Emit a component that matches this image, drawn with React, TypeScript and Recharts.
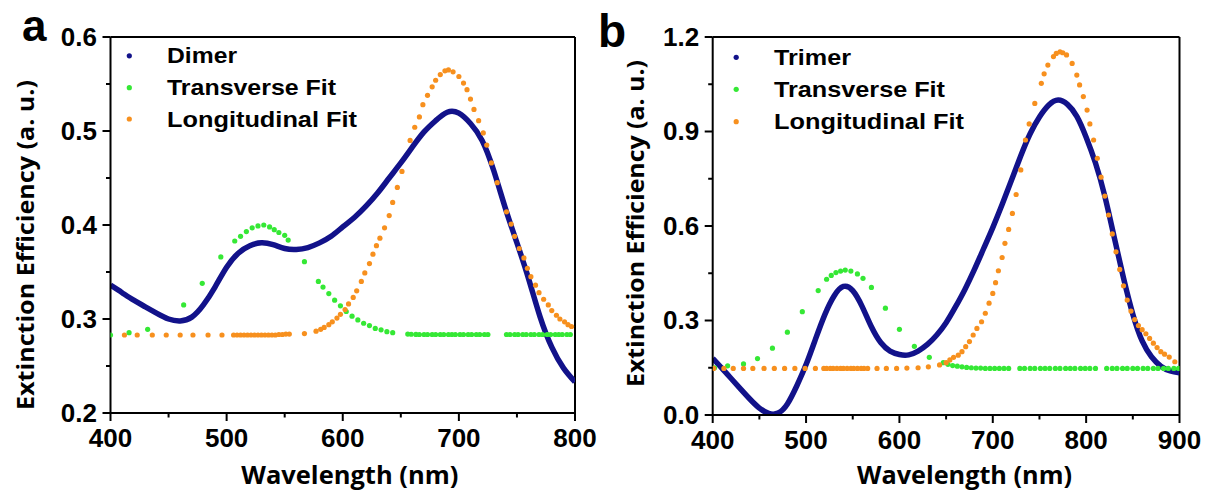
import React from 'react';
import { ComposedChart, Line, Scatter, XAxis, YAxis, ReferenceLine } from 'recharts';

// ---------- Panel a : Dimer ----------
const dimerWl = [400,410,420,430,440,450,460,470,480,490,500,510,520,530,540,550,560,570,580,590,600,610,620,630,640,650,660,670,680,690,700,710,720,730,740,750,760,770,780,790,800];
const dimerVals = [0.336,0.328,0.320,0.313,0.306,0.300,0.298,0.302,0.315,0.334,0.355,0.370,0.378,0.381,0.379,0.375,0.374,0.376,0.381,0.388,0.398,0.408,0.420,0.434,0.450,0.466,0.483,0.499,0.511,0.520,0.519,0.508,0.490,0.458,0.418,0.381,0.343,0.302,0.270,0.248,0.233];

const transAWl = [400,416,432,463,479,495,507,512,517,522,527,532,537,541,545,550,553,567,579,583,588,593,598,603,608,613,618,623,628,633,638,643,656,659,663,666,670,673,677,680,684,687,691,694,697,701,704,708,711,715,718,722,725,741,744,748,751,755,758,762,765,769,772,776,779,783,786,789,793,796];
const transAVals = [0.283,0.2855,0.289,0.315,0.338,0.366,0.383,0.388,0.393,0.397,0.399,0.400,0.398,0.395,0.392,0.389,0.384,0.361,0.340,0.334,0.327,0.320,0.314,0.308,0.303,0.299,0.2955,0.293,0.290,0.2885,0.2865,0.2855,0.284,0.2838,0.2836,0.2835,0.2835,0.2835,0.2835,0.2835,0.2835,0.2835,0.2835,0.2835,0.2835,0.2835,0.2835,0.2835,0.2835,0.2835,0.2835,0.2835,0.2835,0.2835,0.2835,0.2835,0.2835,0.2835,0.2835,0.2835,0.2835,0.2835,0.2835,0.2835,0.2835,0.2835,0.2835,0.2835,0.2835,0.2835];

const longAWl = [412,423,436,448,460,471,484,496,506,509,512,515,518,521,524,527,530,533,536,539,542,545,548,551,554,567,577,581,584,588,591,595,598,602,605,609,612,616,619,623,626,629,632,636,640,643,647,651,658,662,666,669,673,677,680,684,688,691,695,700,704,707,710,713,717,721,724,728,733,741,745,748,752,756,759,762,766,769,773,777,780,784,787,791,794,797];
const longAVals = [0.283,0.283,0.283,0.283,0.283,0.283,0.283,0.283,0.283,0.283,0.283,0.283,0.283,0.283,0.283,0.283,0.283,0.283,0.283,0.283,0.283,0.2835,0.2835,0.284,0.284,0.2845,0.287,0.289,0.291,0.294,0.297,0.301,0.305,0.310,0.316,0.323,0.330,0.340,0.349,0.359,0.369,0.378,0.386,0.397,0.410,0.424,0.440,0.457,0.490,0.504,0.515,0.528,0.538,0.547,0.554,0.560,0.564,0.565,0.563,0.558,0.551,0.544,0.534,0.523,0.511,0.498,0.485,0.466,0.445,0.414,0.401,0.388,0.375,0.365,0.354,0.345,0.336,0.328,0.321,0.315,0.309,0.304,0.300,0.297,0.294,0.292];

// ---------- Panel b : Trimer ----------
const trimerWl = [400,410,420,430,440,450,460,470,480,490,500,510,520,530,540,550,560,570,580,590,600,610,620,630,640,650,660,670,680,690,700,710,720,730,740,750,760,770,780,790,800,810,820,830,840,850,860,870,880,890,900];
const trimerVals = [0.180,0.148,0.115,0.082,0.050,0.022,0.005,0.006,0.035,0.092,0.160,0.240,0.318,0.378,0.408,0.395,0.345,0.280,0.230,0.203,0.192,0.191,0.203,0.224,0.254,0.293,0.343,0.398,0.460,0.527,0.595,0.668,0.745,0.823,0.893,0.946,0.984,1.000,0.986,0.948,0.882,0.800,0.695,0.565,0.435,0.320,0.235,0.185,0.155,0.140,0.134];

const transBWl = [402,416,433,448,464,480,496,513,522,527,532,537,542,548,555,561,570,585,600,616,632,647,652,657,662,667,672,677,682,687,692,697,702,707,712,717,729,734,740,745,751,756,761,767,772,778,783,788,794,799,804,810,822,828,833,839,844,850,855,861,866,872,877,883,888,894,899];
const transBVals = [0.150,0.156,0.162,0.179,0.212,0.263,0.328,0.395,0.431,0.443,0.452,0.457,0.460,0.457,0.448,0.434,0.405,0.339,0.272,0.218,0.183,0.166,0.161,0.157,0.155,0.153,0.151,0.150,0.149,0.149,0.148,0.148,0.148,0.148,0.148,0.148,0.148,0.148,0.148,0.148,0.148,0.148,0.148,0.148,0.148,0.148,0.148,0.148,0.148,0.148,0.148,0.148,0.148,0.148,0.148,0.148,0.148,0.148,0.148,0.148,0.148,0.148,0.148,0.148,0.148,0.148,0.148];

const longBWl = [401,412,422,433,443,455,466,477,488,499,510,519,522,526,529,533,537,540,544,548,551,555,559,562,566,576,586,597,608,620,631,643,650,654,658,663,667,671,675,679,683,688,692,696,700,703,706,710,713,717,721,725,730,735,739,745,752,755,759,765,768,772,775,779,785,790,793,797,801,804,808,812,816,820,824,828,832,836,840,844,848,852,856,860,864,868,872,876,880,884,889,895];
const longBVals = [0.148,0.148,0.148,0.148,0.148,0.148,0.148,0.148,0.148,0.148,0.148,0.148,0.148,0.148,0.148,0.148,0.148,0.148,0.148,0.148,0.148,0.148,0.148,0.148,0.148,0.148,0.148,0.148,0.149,0.150,0.153,0.159,0.166,0.175,0.183,0.190,0.201,0.217,0.233,0.254,0.275,0.296,0.323,0.355,0.386,0.420,0.458,0.500,0.545,0.589,0.640,0.700,0.778,0.873,0.924,0.989,1.053,1.083,1.111,1.138,1.148,1.153,1.150,1.143,1.116,1.079,1.048,1.011,0.968,0.924,0.873,0.815,0.755,0.695,0.635,0.575,0.518,0.462,0.410,0.365,0.330,0.303,0.284,0.271,0.258,0.243,0.228,0.214,0.201,0.193,0.184,0.169];

// ---------- Axes ----------
const xTicksA = [400,450,500,550,600,650,700,750,800];
const xMajorA = [400,500,600,700,800];
const yTicksA = [0.2,0.25,0.3,0.35,0.4,0.45,0.5,0.55,0.6];
const yMajorA = [0.2,0.3,0.4,0.5,0.6];
const xTicksB = [400,450,500,550,600,650,700,750,800,850,900];
const xMajorB = [400,500,600,700,800,900];
const yTicksB = [0,0.15,0.3,0.45,0.6,0.75,0.9,1.05,1.2];
const yMajorB = [0,0.3,0.6,0.9,1.2];

const BLUE = '#12128a';
const GREEN = '#35e835';
const ORANGE = '#f7901e';
const TICK_FONT = '"Liberation Sans", Arial, sans-serif';
const TITLE_FONT = '"Open Sans", "Liberation Sans", Arial, sans-serif';

const zip = (xs: number[], vs: number[]) => xs.map((x, i) => ({ x, v: vs[i] }));

const isIn = (arr: number[], v: number) => arr.some((m) => Math.abs(m - v) < 1e-6);

const makeXTick = (majors: number[]) => (p: any) => {
  const { x, y, payload } = p;
  const v = payload.value;
  const major = isIn(majors, v);
  return (
    <g>
      <line x1={x} x2={x} y1={y} y2={y + (major ? 8 : 4.5)} stroke="#000" strokeWidth={2} />
      {major && (
        <text x={x} y={y + 34} textAnchor="middle" fontFamily={TICK_FONT} fontWeight="bold" fontSize={26} fill="#000">
          {v}
        </text>
      )}
    </g>
  );
};

const makeYTick = (majors: number[]) => (p: any) => {
  const { x, y, payload } = p;
  const v = payload.value;
  const major = isIn(majors, v);
  return (
    <g>
      <line x1={x} x2={x - (major ? 8 : 4.5)} y1={y} y2={y} stroke="#000" strokeWidth={2} />
      {major && (
        <text x={x - 13.5} y={y + 8.5} textAnchor="end" fontFamily={TICK_FONT} fontWeight="bold" fontSize={26} fill="#000">
          {v.toFixed(1)}
        </text>
      )}
    </g>
  );
};

const makeDot = (color: string) => (p: any) => <circle cx={p.cx} cy={p.cy} r={2.6} fill={color} />;

type PanelProps = {
  left: number;
  width: number;
  margin: { top: number; right: number; bottom: number; left: number };
  xDomain: [number, number];
  yDomain: [number, number];
  xTicks: number[];
  xMajor: number[];
  yTicks: number[];
  yMajor: number[];
  main: { x: number; v: number }[];
  trans: { x: number; v: number }[];
  longi: { x: number; v: number }[];
  mainName: string;
};

function Panel(props: PanelProps) {
  const { left, width, margin, xDomain, yDomain, xTicks, xMajor, yTicks, yMajor, main, trans, longi, mainName } = props;
  return (
    <div style={{ position: 'absolute', left, top: 0 }}>
      <ComposedChart width={width} height={494} margin={margin}>
        <XAxis
          type="number"
          dataKey="x"
          domain={xDomain}
          ticks={xTicks}
          interval={0}
          allowDataOverflow
          height={40}
          tickSize={0}
          tickMargin={0}
          tickLine={false}
          axisLine={{ stroke: '#000', strokeWidth: 2 }}
          tick={makeXTick(xMajor)}
        />
        <YAxis
          type="number"
          dataKey="v"
          domain={yDomain}
          ticks={yTicks}
          interval={0}
          allowDataOverflow
          width={60}
          tickSize={0}
          tickMargin={0}
          tickLine={false}
          axisLine={{ stroke: '#000', strokeWidth: 2 }}
          tick={makeYTick(yMajor)}
        />
        <ReferenceLine y={yDomain[1]} stroke="#000" strokeWidth={2} />
        <ReferenceLine x={xDomain[1]} stroke="#000" strokeWidth={2} />
        <Scatter name="Transverse Fit" data={trans} dataKey="v" fill={GREEN} shape={makeDot(GREEN)} isAnimationActive={false} />
        <Scatter name="Longitudinal Fit" data={longi} dataKey="v" fill={ORANGE} shape={makeDot(ORANGE)} isAnimationActive={false} />
        <Line
          name={mainName}
          data={main}
          dataKey="v"
          type="natural"
          stroke={BLUE}
          strokeWidth={5.5}
          dot={false}
          activeDot={false}
          isAnimationActive={false}
        />
      </ComposedChart>
    </div>
  );
}

function LegendBlock({ dotX, textX, rows, labels, widths }: { dotX: number; textX: number; rows: number[]; labels: string[]; widths: number[] }) {
  const colors = [BLUE, GREEN, ORANGE];
  return (
    <g>
      {labels.map((l, i) => (
        <g key={l}>
          <circle cx={dotX} cy={rows[i]} r={2.6} fill={colors[i]} />
          <text
            x={textX}
            y={rows[i] + 7.5}
            fontFamily={TICK_FONT}
            fontWeight="bold"
            fontSize={22}
            fill="#000"
            textLength={widths[i]}
            lengthAdjust="spacingAndGlyphs"
          >
            {l}
          </text>
        </g>
      ))}
    </g>
  );
}

export default function App() {
  return (
    <div style={{ position: 'absolute', left: 0, top: 0, width: 1205, height: 494, background: '#fff', overflow: 'hidden' }}>
      <Panel
        left={0}
        width={600}
        margin={{ top: 37, right: 25, bottom: 41, left: 50.5 }}
        xDomain={[400, 800]}
        yDomain={[0.2, 0.6]}
        xTicks={xTicksA}
        xMajor={xMajorA}
        yTicks={yTicksA}
        yMajor={yMajorA}
        main={zip(dimerWl, dimerVals)}
        trans={zip(transAWl, transAVals)}
        longi={zip(longAWl, longAVals)}
        mainName="Dimer"
      />
      <Panel
        left={600}
        width={605}
        margin={{ top: 37, right: 25.5, bottom: 39, left: 52.7 }}
        xDomain={[400, 900]}
        yDomain={[0, 1.2]}
        xTicks={xTicksB}
        xMajor={xMajorB}
        yTicks={yTicksB}
        yMajor={yMajorB}
        main={zip(trimerWl, trimerVals)}
        trans={zip(transBWl, transBVals)}
        longi={zip(longBWl, longBVals)}
        mainName="Trimer"
      />
      <svg width={1205} height={494} style={{ position: 'absolute', left: 0, top: 0, pointerEvents: 'none' }}>
        <text x={22} y={41} fontFamily={TICK_FONT} fontWeight="bold" fontSize={44} fill="#000">a</text>
        <text x={598} y={47} fontFamily={TICK_FONT} fontWeight="bold" fontSize={46} fill="#000">b</text>

        <LegendBlock dotX={129.3} textX={167} rows={[55.8, 87.7, 119]} labels={['Dimer', 'Transverse Fit', 'Longitudinal Fit']} widths={[70, 169, 190]} />
        <LegendBlock dotX={736.2} textX={774} rows={[57.3, 89.3, 121.7]} labels={['Trimer', 'Transverse Fit', 'Longitudinal Fit']} widths={[77, 171, 190]} />

        <text x={349.8} y={484} textAnchor="middle" fontFamily={TITLE_FONT} fontWeight="bold" fontSize={25} fill="#000" textLength={217} lengthAdjust="spacingAndGlyphs">
          Wavelength (nm)
        </text>
        <text x={964.5} y={484} textAnchor="middle" fontFamily={TITLE_FONT} fontWeight="bold" fontSize={25} fill="#000" textLength={215} lengthAdjust="spacingAndGlyphs">
          Wavelength (nm)
        </text>
        <text transform="translate(33.5,245) rotate(-90)" x={0} y={0} textAnchor="middle" fontFamily={TITLE_FONT} fontWeight="bold" fontSize={24} fill="#000" textLength={330} lengthAdjust="spacingAndGlyphs">
          Extinction Efficiency (a. u.)
        </text>
        <text transform="translate(643.5,223.5) rotate(-90)" x={0} y={0} textAnchor="middle" fontFamily={TITLE_FONT} fontWeight="bold" fontSize={24} fill="#000" textLength={327} lengthAdjust="spacingAndGlyphs">
          Extinction Efficiency (a. u.)
        </text>
      </svg>
    </div>
  );
}
